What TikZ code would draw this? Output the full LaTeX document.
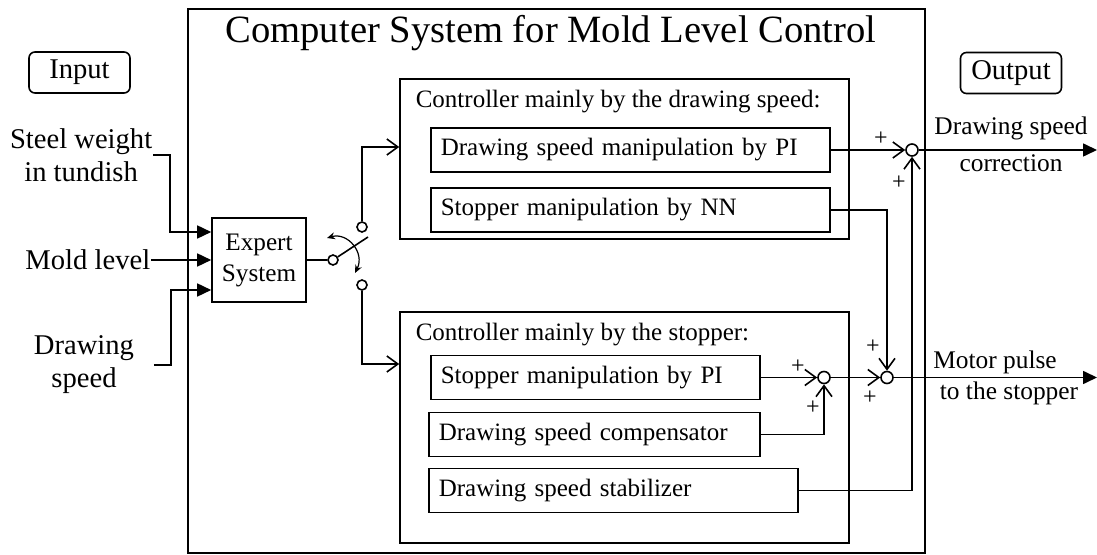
\documentclass[tikz,border=0pt]{standalone}
\usepackage{fontspec}
\setmainfont{Liberation Serif}
\usetikzlibrary{arrows.meta}

\begin{document}
\begin{tikzpicture}[x=0.5pt, y=-0.5pt, line width=0.8pt,
    every node/.style={font=\fontsize{12.5}{15}\selectfont},
    block/.style={draw, anchor=west, minimum height=22pt, inner xsep=5pt, inner ysep=0pt, align=left},
    group/.style={draw, minimum width=224.5pt, inner sep=0pt},
    iobox/.style={draw, rounded corners=3pt, minimum width=50.5pt, minimum height=20.5pt, font=\fontsize{14.3}{17}\selectfont},
    inlabel/.style={align=center, inner sep=0pt, font=\fontsize{14.3}{16.5}\selectfont},
    outlabel/.style={inner sep=0pt, font=\fontsize{12.7}{15}\selectfont},
    junction/.style={draw, circle, fill=white, minimum size=6pt, inner sep=0pt},
    contact/.style={draw, circle, fill=white, minimum size=5pt, inner sep=0pt},
    plus/.style={inner sep=0pt, font=\fontsize{12}{12}\selectfont},
    oarr/.style={-{Straight Barb[length=5.5pt, width=8pt]}},
    farr/.style={-{Triangle[length=7pt, width=6.5pt]}}]

    \useasboundingbox (0,0) rectangle (1097,555);

    % frame of the computer system
    \node[draw, minimum width=368.5pt, minimum height=272pt] (sys) at (556.5,281) {};
    \node[font=\fontsize{19.3}{23}\selectfont] (title) at (551,33) {Computer System for Mold Level Control};

    \node[iobox] (input) at (79.5,72.5) {Input};
    \node[iobox] (output) at (1011,73) {Output};

    % inputs
    \node[inlabel, anchor=east] (steel) at (153,155) {Steel weight\\in tundish};
    \node[inlabel, anchor=east] (mold) at (151,260) {Mold level};
    \node[inlabel, inner xsep=9.5pt] (dspeed) at (84,365) {Drawing\\speed};

    \node[draw, minimum width=47pt, minimum height=42pt, align=center, inner sep=0pt,
          font=\fontsize{12.6}{15.5}\selectfont] (expert) at (259,260) {Expert\\System};

    % switch
    \node[contact] (s0) at (333,260) {};
    \node[contact] (su) at (362,227) {};
    \node[contact] (sd) at (362,285) {};
    \coordinate (blade) at (368,237);

    % controller mainly by the drawing speed
    \node[group, minimum height=80pt] (upc) at (624.5,159) {};
    \node[anchor=west, inner sep=0pt] (uptitle) at (415,102) {Controller mainly by the drawing speed:};
    \node[block, text width=189.5pt] (dspi) at (430,150) {Drawing speed manipulation by PI};
    \node[block, text width=189.5pt] (nn) at (430,210) {Stopper manipulation by NN};

    % controller mainly by the stopper
    \node[group, minimum height=115.5pt] (lowc) at (624.5,427.5) {};
    \node[anchor=west, inner sep=0pt] (lowtitle) at (415,335) {Controller mainly by the stopper:};
    \node[block, text width=154.5pt] (spi) at (430,377.5) {Stopper manipulation by PI};
    \node[block, text width=155.5pt] (comp) at (428,434.5) {Drawing speed compensator};
    \node[block, text width=174.5pt] (stab) at (428,490.5) {Drawing speed stabilizer};

    % summing points
    \node[junction] (sa) at (912,150) {};
    \node[junction] (sb) at (887,377.5) {};
    \node[junction] (sc) at (824,377.5) {};

    \node[plus] (pa1) at (881,139) {+};
    \node[plus] (pa2) at (899,183) {+};
    \node[plus] (pb1) at (873,347) {+};
    \node[plus] (pb2) at (870,398) {+};
    \node[plus] (pc1) at (798,367) {+};
    \node[plus] (pc2) at (813,408) {+};

    % outputs
    \coordinate (outa) at (1097,150);
    \coordinate (outb) at (1097,377.5);
    \node[outlabel] (dscor1) at (1011,128) {Drawing speed};
    \node[outlabel] (dscor2) at (1011,163) {correction};
    \node[outlabel] (motor1) at (995,362) {Motor pulse};
    \node[outlabel] (motor2) at (1009,393) {to the stopper};

    % connections
    \draw[farr] (steel.east) -- ++(17,0) |- ([yshift=14pt]expert.west);
    \draw[farr] (mold.east) -- (expert.west);
    \draw[farr] (dspeed.east) -- ++(17,0) |- ([yshift=-15pt]expert.west);

    \draw (expert.east) -- (s0);
    \draw (s0.33) -- (blade);
    \draw[{Stealth[length=4pt, width=3.5pt]}-{Stealth[length=4pt, width=3.5pt]}, line width=0.6pt]
        (327,238) .. controls (348,232) and (365,253) .. (355,273);
    \draw[oarr] (su.north) |- ([yshift=1.5pt]dspi.west -| upc.west);
    \draw[oarr] (sd.south) |- ([yshift=6.75pt]spi.west -| lowc.west);

    \draw[oarr] (dspi.east) -- (sa);
    \draw[oarr] (nn.east) -| (sb.north);
    \draw[oarr] (spi.east) -- (sc);
    \draw[oarr] (comp.east) -| (sc.south);
    \draw[oarr] (sc) -- (sb);
    \draw[oarr] (stab.east) -| (sa.south);

    \draw[farr] (sa) -- (outa);
    \draw[farr] (sb) -- (outb);
\end{tikzpicture}
\end{document}
